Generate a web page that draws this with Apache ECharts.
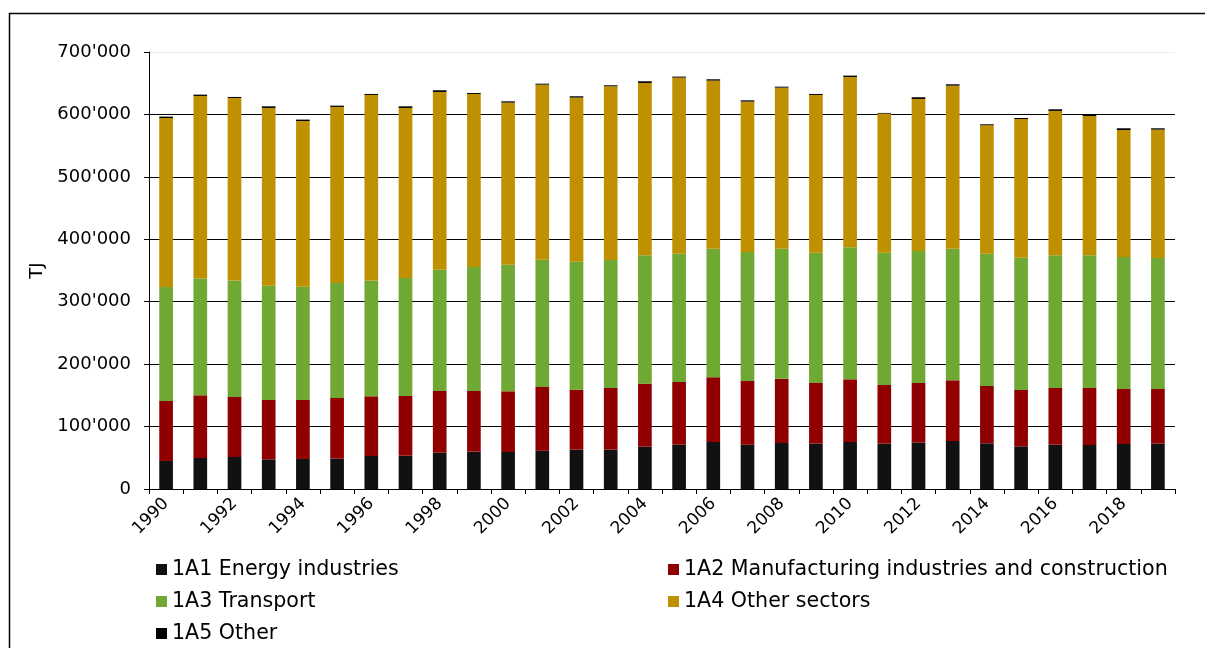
<!DOCTYPE html>
<html>
<head>
<meta charset="utf-8">
<script src="https://cdn.jsdelivr.net/npm/echarts@6/dist/echarts.min.js"></script>
<style>
html,body{margin:0;padding:0;background:#fff;}
#chart{width:1205px;height:648px;}
</style>
</head>
<body>
<div id="chart"></div>
<script>
const years = ['1990','1991','1992','1993','1994','1995','1996','1997','1998','1999',
  '2000','2001','2002','2003','2004','2005','2006','2007','2008','2009',
  '2010','2011','2012','2013','2014','2015','2016','2017','2018','2019'];
const energyIndustries = [44900,49700,51300,47500,48100,48600,52900,53400,58200,59800,
  59300,61400,63000,63000,67800,71000,75300,71000,73700,72600,
  75300,72600,74200,76900,73200,68400,71000,70500,72100,72600];
const manufacturing = [96100,100400,96100,95100,94500,97200,95600,95600,98800,97200,
  97200,102000,96100,98800,100900,100400,103600,102000,103100,97200,
  100400,94000,95600,97200,91800,90200,90800,91300,88100,87600];
const transport = [182600,186900,186400,183100,181500,184200,185300,189000,194400,198600,
  202900,204000,205100,205100,205600,205600,206100,206700,208200,208800,
  211500,212000,211500,210900,212000,212000,212500,212500,211500,209900];
const otherSectors = [270700,292600,292600,284700,265400,282000,297400,272400,284600,277200,
  259500,280300,262700,278200,276100,282000,269200,240800,257900,252600,
  272800,222700,243500,261100,205600,222100,231300,223200,203400,205600];
const other = [2200,2100,1600,2600,2200,2100,1600,2600,2700,1600,
  2100,1600,2200,1600,2700,1600,2100,2100,1600,1600,
  2200,1100,2700,2200,1600,1600,2600,2200,2700,2100];
const seriesNames = ['1A1 Energy industries','1A2 Manufacturing industries and construction',
  '1A3 Transport','1A4 Other sectors','1A5 Other'];
const seriesData = [energyIndustries, manufacturing, transport, otherSectors, other];
const colors = ['#111111','#900000','#6fa832','#bf9000','#000000'];

const fmt = v => String(v).replace(/\B(?=(\d{3})+(?!\d))/g, "'");
const font = 'DejaVu Sans, sans-serif';

// legend grid slots: [column, row]
const legendSlots = [[0,0],[1,0],[0,1],[1,1],[0,2]];
const legendCols = [151, 663];
const legendRowTop = 554, legendRowPitch = 32;

const chart = echarts.init(document.getElementById('chart'));
chart.setOption({
  animation: false,
  backgroundColor: '#fff',
  color: colors,
  grid: {left: 149, right: 30, top: 52, bottom: 159, containLabel: false},
  graphic: [{
    type: 'polyline',
    shape: {points: [[9.5, 660], [9.5, 13.5], [1210, 13.5]]},
    style: {stroke: '#000', lineWidth: 1.5, fill: null},
    silent: true
  }],
  legend: seriesNames.map((n, i) => ({
    data: [n],
    orient: 'horizontal',
    left: legendCols[legendSlots[i][0]],
    top: legendRowTop + legendSlots[i][1] * legendRowPitch,
    icon: 'rect', itemWidth: 11, itemHeight: 11,
    textStyle: {fontFamily: font, fontSize: 20.6, lineHeight: 21, color: '#000'}
  })),
  xAxis: {
    type: 'category', data: years, boundaryGap: true,
    axisLine: {lineStyle: {color: '#000', width: 1}},
    axisTick: {show: true, alignWithLabel: false, interval: 0, length: 5, lineStyle: {color: '#000'}},
    axisLabel: {interval: 1, rotate: 45, fontFamily: font, fontSize: 17, color: '#000', margin: 12}
  },
  yAxis: {
    type: 'value', min: 0, max: 700000, interval: 100000,
    name: 'TJ', nameLocation: 'middle', nameGap: 98, nameRotate: 90,
    nameTextStyle: {fontFamily: font, fontSize: 18, color: '#000'},
    axisLine: {show: true, lineStyle: {color: '#000', width: 1}},
    axisTick: {show: true, length: 5, inside: false, lineStyle: {color: '#000'}},
    axisLabel: {formatter: fmt, fontFamily: font, fontSize: 18, color: '#000', margin: 18},
    splitLine: {show: true, lineStyle: {color: ['#000','#000','#000','#000','#000','#000','#000','#eeeeee'], width: 1}}
  },
  series: seriesData.map((d, i) => ({
    name: seriesNames[i], type: 'bar', stack: 'total', data: d,
    barWidth: '40%',
    itemStyle: {color: colors[i]}
  }))
});
</script>
</body>
</html>
